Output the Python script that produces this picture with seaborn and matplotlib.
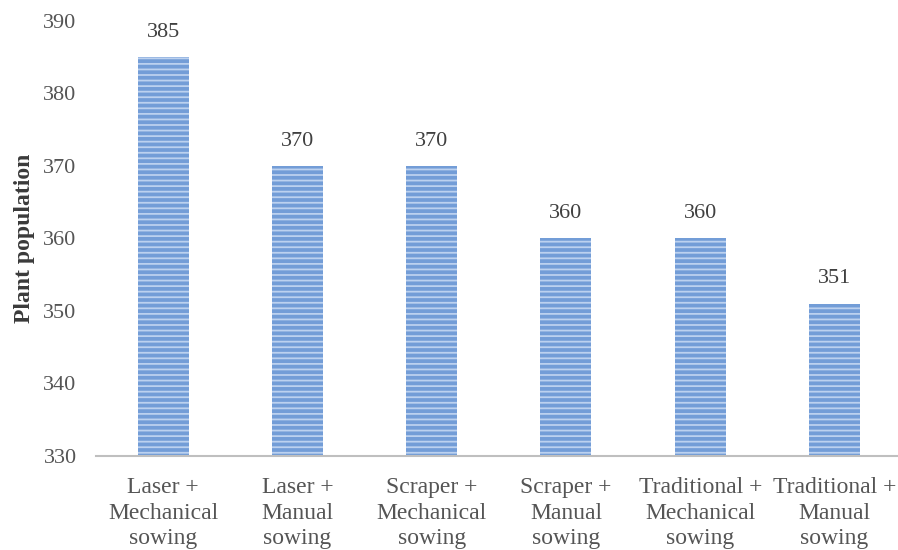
import matplotlib
matplotlib.use("Agg")
import matplotlib.pyplot as plt
import seaborn as sns
import pandas as pd

categories = [
    "Laser +\nMechanical\nsowing",
    "Laser +\nManual\nsowing",
    "Scraper +\nMechanical\nsowing",
    "Scraper +\nManual\nsowing",
    "Traditional +\nMechanical\nsowing",
    "Traditional +\nManual\nsowing",
]
values = [385, 370, 370, 360, 360, 351]
y_ticks = [330, 340, 350, 360, 370, 380, 390]

sns.set_theme(style="white")
plt.rcParams["font.family"] = ["Liberation Serif", "DejaVu Serif"]
plt.rcParams["hatch.linewidth"] = 1.3

df = pd.DataFrame({"cat": categories, "val": values})

fig = plt.figure(figsize=(8.98, 5.5), dpi=100)
ax = fig.add_axes([0.107, 0.171, 0.897, 0.791])

sns.barplot(data=df, x="cat", y="val", ax=ax, color="#739dd7",
            width=0.38, saturation=1)
for p in ax.patches:
    p.set_hatch("---")
    p.set_edgecolor("#bcd1ef")
    p.set_linewidth(0)
    p.set_facecolor("#739dd7")

ax.set_ylim(330, 390)
ax.set_yticks(y_ticks)
ax.tick_params(axis="y", length=0, labelsize=16, labelcolor="#555555", pad=14)
ax.tick_params(axis="x", length=0, labelsize=17, labelcolor="#555555", pad=15)
for t in ax.get_xticklabels():
    t.set_linespacing(1.3)
ax.set_xlabel("")
ax.set_ylabel("Plant population", fontsize=17, fontweight="bold", color="#3a3a3a", labelpad=6)
for s in ["left", "top", "right"]:
    ax.spines[s].set_visible(False)
ax.spines["bottom"].set_color("#bfbfbf")
ax.spines["bottom"].set_linewidth(1.5)

for i, v in enumerate(values):
    ax.annotate(f"{v}", (i, v), xytext=(0, 11), textcoords="offset points",
                ha="center", va="bottom", fontsize=16, color="#404040")

fig.savefig("out.png", dpi=100)
